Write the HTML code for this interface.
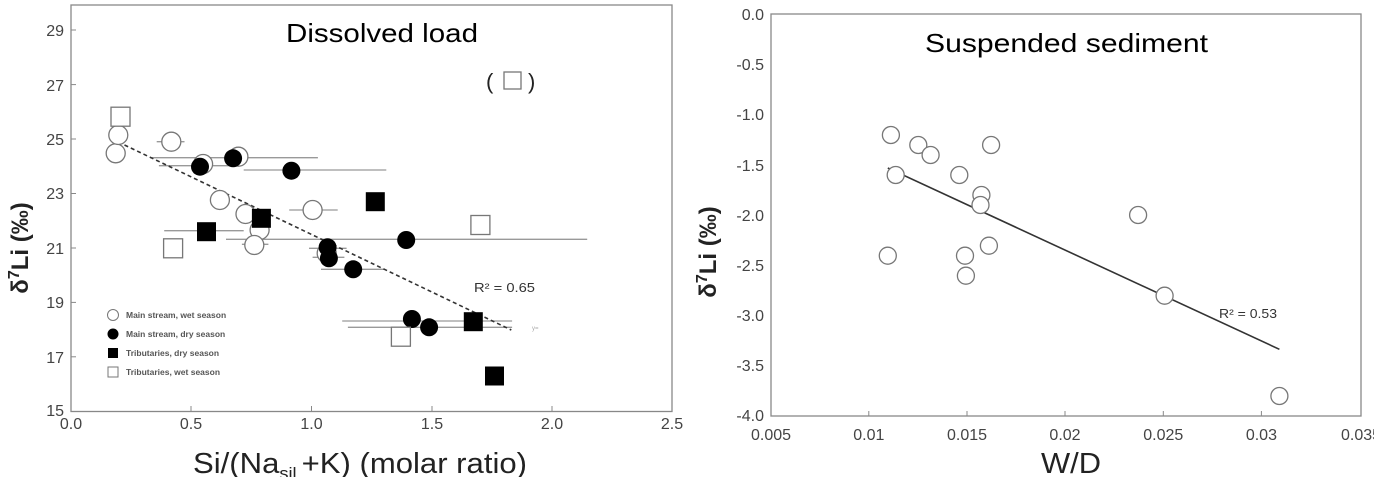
<!DOCTYPE html>
<html><head><meta charset="utf-8"><style>
html,body{margin:0;padding:0;background:#fff;}
svg{display:block;font-family:"Liberation Sans",sans-serif;}
</style></head><body>
<svg width="1374" height="477" viewBox="0 0 1374 477" xmlns="http://www.w3.org/2000/svg">
<rect width="1374" height="477" fill="#fff"/>
<!-- LEFT CHART -->
<rect x="71" y="5" width="601" height="406.5" fill="none" stroke="#888" stroke-width="1.3"/>
<g stroke="#888" stroke-width="1">
<line x1="71" y1="30" x2="76" y2="30"/><line x1="71" y1="84.6" x2="76" y2="84.6"/><line x1="71" y1="139" x2="76" y2="139"/><line x1="71" y1="193.5" x2="76" y2="193.5"/><line x1="71" y1="248" x2="76" y2="248"/><line x1="71" y1="302.4" x2="76" y2="302.4"/><line x1="71" y1="356.8" x2="76" y2="356.8"/>
<line x1="191" y1="411.5" x2="191" y2="406"/><line x1="311.5" y1="411.5" x2="311.5" y2="406"/><line x1="432" y1="411.5" x2="432" y2="406"/><line x1="552" y1="411.5" x2="552" y2="406"/>
</g>
<g font-size="16" fill="#444" text-anchor="end">
<text x="64" y="36">29</text><text x="64" y="91">27</text><text x="64" y="145">25</text><text x="64" y="199">23</text><text x="64" y="254">21</text><text x="64" y="308">19</text><text x="64" y="363">17</text><text x="64" y="416">15</text>
</g>
<g font-size="16" fill="#444" text-anchor="middle">
<text x="71" y="429">0.0</text><text x="191" y="429">0.5</text><text x="311.5" y="429">1.0</text><text x="432" y="429">1.5</text><text x="552" y="429">2.0</text><text x="672" y="429">2.5</text>
</g>
<text x="286" y="42" font-size="26" textLength="192" lengthAdjust="spacingAndGlyphs" fill="#000">Dissolved load</text>
<text transform="translate(28,248) rotate(-90)" font-size="24" font-weight="bold" text-anchor="middle" fill="#222">δ<tspan font-size="16" dy="-9">7</tspan><tspan dy="9">Li (‰)</tspan></text>
<text x="193" y="473" font-size="29" textLength="334" lengthAdjust="spacingAndGlyphs" fill="#222">Si/(Na<tspan font-size="17" dy="6">sil.</tspan><tspan dy="-6">+K) (molar ratio)</tspan></text>
<!-- error bars -->
<g stroke="#999" stroke-width="1.3">
<line x1="156.7" y1="141.7" x2="184.5" y2="141.7"/><line x1="150.1" y1="157.7" x2="317.9" y2="157.7"/><line x1="158.9" y1="165.7" x2="240.6" y2="165.7"/><line x1="243.7" y1="170" x2="386.3" y2="170"/><line x1="289.2" y1="210" x2="337.7" y2="210"/><line x1="164.2" y1="230.7" x2="243.7" y2="230.7"/><line x1="226" y1="239.3" x2="587.2" y2="239.3"/><line x1="241.9" y1="244.3" x2="268.4" y2="244.3"/><line x1="309" y1="248.3" x2="346.6" y2="248.3"/><line x1="312.6" y1="257.3" x2="344.4" y2="257.3"/><line x1="321" y1="269.3" x2="385" y2="269.3"/><line x1="342.2" y1="321" x2="512.1" y2="321"/><line x1="347.9" y1="327.3" x2="512.1" y2="327.3"/>
</g>
<line x1="124.5" y1="145" x2="511.3" y2="330" stroke="#333" stroke-width="1.6" stroke-dasharray="4,3"/>
<text x="474" y="292" font-size="13" textLength="61" lengthAdjust="spacingAndGlyphs" fill="#333">R² = 0.65</text>
<text x="532" y="330" font-size="6" fill="#aaa">y=</text>
<!-- open circles -->
<g fill="#fff" stroke="#777" stroke-width="1.3">
<circle cx="115.7" cy="153.3" r="9.5"/><circle cx="118.3" cy="135" r="9.5"/><circle cx="171.3" cy="141.7" r="9.5"/><circle cx="203.1" cy="164" r="9.5"/><circle cx="238.4" cy="156.7" r="9.5"/><circle cx="219.9" cy="200" r="9.5"/><circle cx="245.5" cy="214" r="9.5"/><circle cx="259.6" cy="230" r="9.5"/><circle cx="254.3" cy="245" r="9.5"/><circle cx="312.6" cy="210" r="9.5"/><circle cx="326.7" cy="253.3" r="9.5"/>
</g>
<g fill="#000">
<circle cx="200" cy="166.7" r="9"/><circle cx="233.1" cy="158.3" r="9"/><circle cx="291.4" cy="170.7" r="9"/><circle cx="406.2" cy="240" r="9"/><circle cx="327.6" cy="247.3" r="9"/><circle cx="328.9" cy="258.3" r="9"/><circle cx="353.2" cy="269.3" r="9"/><circle cx="411.9" cy="319" r="9"/><circle cx="429.1" cy="327.3" r="9"/>
<rect x="197" y="222.2" width="19" height="19"/><rect x="251.9" y="208.8" width="19" height="19"/><rect x="365.8" y="192.2" width="19" height="19"/><rect x="463.8" y="312.2" width="19" height="19"/><rect x="485" y="366.5" width="19" height="19"/>
</g>
<g fill="#fff" stroke="#777" stroke-width="1.3">
<rect x="111" y="107.2" width="19" height="19"/><rect x="163.6" y="238.8" width="19" height="19"/><rect x="470.9" y="215.5" width="19" height="19"/><rect x="391.4" y="327.2" width="19" height="19"/><rect x="504" y="72" width="17" height="17"/>
</g>
<text x="486" y="89" font-size="22" fill="#222">(</text><text x="528" y="89" font-size="22" fill="#222">)</text>
<!-- legend -->
<circle cx="113" cy="315" r="5.5" fill="#fff" stroke="#777" stroke-width="1"/>
<circle cx="113" cy="334" r="5.5" fill="#000"/>
<rect x="108" y="348" width="10" height="10" fill="#000"/>
<rect x="108" y="367" width="10" height="10" fill="#fff" stroke="#777" stroke-width="1"/>
<g font-size="8.5" fill="#555" font-weight="bold">
<text x="126" y="318">Main stream, wet season</text><text x="126" y="337">Main stream, dry season</text><text x="126" y="356">Tributaries, dry season</text><text x="126" y="375">Tributaries, wet season</text>
</g>
<!-- RIGHT CHART -->
<rect x="771" y="14" width="590" height="402" fill="none" stroke="#888" stroke-width="1.3"/>
<g stroke="#888" stroke-width="1">
<line x1="868.8" y1="416" x2="868.8" y2="411"/><line x1="967" y1="416" x2="967" y2="411"/><line x1="1065" y1="416" x2="1065" y2="411"/><line x1="1163.3" y1="416" x2="1163.3" y2="411"/><line x1="1261.4" y1="416" x2="1261.4" y2="411"/>
</g>
<g font-size="16" fill="#444" text-anchor="end">
<text x="764" y="20">0.0</text><text x="764" y="70">-0.5</text><text x="764" y="120">-1.0</text><text x="764" y="171">-1.5</text><text x="764" y="221">-2.0</text><text x="764" y="271">-2.5</text><text x="764" y="321">-3.0</text><text x="764" y="371">-3.5</text><text x="764" y="421">-4.0</text>
</g>
<g font-size="16" fill="#444" text-anchor="middle">
<text x="771" y="440">0.005</text><text x="868.8" y="440">0.01</text><text x="967" y="440">0.015</text><text x="1065" y="440">0.02</text><text x="1163.3" y="440">0.025</text><text x="1261.4" y="440">0.03</text><text x="1361" y="440">0.035</text>
</g>
<text x="925" y="52" font-size="26" textLength="283" lengthAdjust="spacingAndGlyphs" fill="#000">Suspended sediment</text>
<text transform="translate(716,252) rotate(-90)" font-size="24" font-weight="bold" text-anchor="middle" fill="#222">δ<tspan font-size="16" dy="-9">7</tspan><tspan dy="9">Li (‰)</tspan></text>
<text x="1041" y="473" font-size="29" textLength="60" lengthAdjust="spacingAndGlyphs" fill="#222">W/D</text>
<line x1="887.8" y1="168" x2="1279.4" y2="349.3" stroke="#333" stroke-width="1.6"/>
<text x="1219" y="318" font-size="13" textLength="58" lengthAdjust="spacingAndGlyphs" fill="#333">R² = 0.53</text>
<g fill="#fff" stroke="#777" stroke-width="1.3">
<circle cx="890.9" cy="135" r="8.5"/><circle cx="918.3" cy="145" r="8.5"/><circle cx="930.6" cy="155" r="8.5"/><circle cx="991.1" cy="145" r="8.5"/><circle cx="895.7" cy="175" r="8.5"/><circle cx="959.3" cy="175" r="8.5"/><circle cx="981.4" cy="195" r="8.5"/><circle cx="980.5" cy="205" r="8.5"/><circle cx="1138.1" cy="215" r="8.5"/><circle cx="887.8" cy="255.7" r="8.5"/><circle cx="965" cy="255.7" r="8.5"/><circle cx="988.9" cy="245.7" r="8.5"/><circle cx="965.9" cy="275.7" r="8.5"/><circle cx="1164.6" cy="295.7" r="8.5"/><circle cx="1279.4" cy="396" r="8.5"/>
</g>
</svg>
</body></html>
